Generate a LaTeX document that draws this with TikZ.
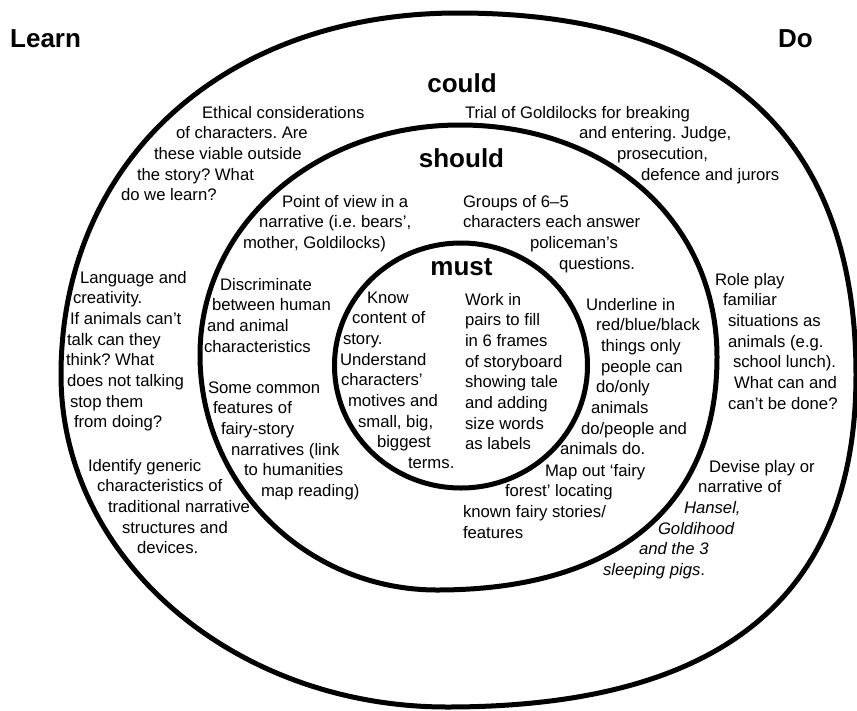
\documentclass[tikz,border=0pt]{standalone}
\usepackage{fontspec}
\setmainfont{Liberation Sans}
\frenchspacing
\begin{document}
\begin{tikzpicture}[x=1pt,y=-1pt,
  ring/.style={line width=5pt,line join=round},
  body/.style={anchor=north west,inner sep=0pt,outer sep=0pt,align=left,
    yshift=14.49pt,font=\fontsize{16.7}{20.7}\selectfont},
  head/.style={anchor=base,inner sep=0pt,font=\fontsize{26}{30}\selectfont\bfseries},
  side/.style={anchor=base west,inner sep=0pt,font=\fontsize{26}{30}\selectfont\bfseries},
]
\useasboundingbox (0,0) rectangle (857,710);

% outer ring: four quarter curves, fuller on the right
\draw[ring] (458,13)
  .. controls (720.7,13) and (856,136.1) .. (856,375)
  .. controls (856,597.4) and (721,707) .. (447,707)
  .. controls (233.8,707) and (61,558.4) .. (61,375)
  .. controls (61,161.4) and (223.8,13) .. (458,13) -- cycle;

% middle ring
\draw[ring] (460,125)
  .. controls (609.1,125) and (717,222.4) .. (717,357)
  .. controls (717,506.1) and (616.2,590) .. (437,590)
  .. controls (306.1,590) and (200,484.8) .. (200,355)
  .. controls (200,226.2) and (314.4,125) .. (460,125) -- cycle;

% inner ring
\draw[ring] (461,365.5) ellipse [x radius=126.5pt, y radius=122.5pt];

% corner labels
\node[side] (learn) at (10,47) {Learn};
\node[side] (do) at (778,47) {Do};

% ring headings
\node[head] (could) at (462,92) {could};
\node[head] (should) at (461.5,167) {should};
\node[head] (must) at (461.5,275) {must};

% outer ring, learning side
\node[body] (ethical) at (121,118) {\strut\hspace*{81pt}Ethical considerations\\
\hspace*{55pt}of characters. Are\\
\hspace*{33pt}these viable outside\\
\hspace*{16pt}the story? What\\
do we learn?};

\node[body] (language) at (66,283) {\strut\hspace*{14pt}Language and\\
\hspace*{7pt}creativity.\\
\hspace*{4pt}If animals can’t\\
\hspace*{1pt}talk can they\\
think? What\\
\hspace*{1pt}does not talking\\
\hspace*{4pt}stop them\\
\hspace*{8pt}from doing?};

\node[body] (identify) at (88,471) {\strut Identify generic\\
\hspace*{9pt}characteristics of\\
\hspace*{20pt}traditional narrative\\
\hspace*{34pt}structures and\\
\hspace*{49pt}devices.};

% outer ring, doing side
\node[body] (trial) at (465,118) {\strut Trial of Goldilocks for breaking\\
\hspace*{114pt}and entering. Judge,\\
\hspace*{152pt}prosecution,\\
\hspace*{176pt}defence and jurors};

\node[body] (roleplay) at (715,285) {\strut Role play\\
\hspace*{8pt}familiar\\
\hspace*{13pt}situations as\\
\hspace*{13pt}animals (e.g.\\
\hspace*{18pt}school lunch).\\
\hspace*{19pt}What can and\\
\hspace*{13pt}can’t be done?};

\node[body] (devise) at (603,472) {\strut\hspace*{106pt}Devise play or\\
\hspace*{95pt}narrative of\\
\hspace*{81pt}\textit{Hansel,}\\
\hspace*{55pt}\textit{Goldihood}\\
\hspace*{36pt}\textit{and the 3}\\
\textit{sleeping pigs}.};

% middle ring, learning side
\node[body] (pointofview) at (243,207) {\strut\hspace*{39pt}Point of view in a\\
\hspace*{16pt}narrative (i.e. bears’,\\
mother, Goldilocks)};

\node[body] (discriminate) at (204,290) {\strut\hspace*{16pt}Discriminate\\
\hspace*{8pt}between human\\
\hspace*{3pt}and animal\\
characteristics};

\node[body] (common) at (208,393) {\strut Some common\\
\hspace*{5pt}features of\\
\hspace*{13pt}fairy-story\\
\hspace*{23pt}narratives (link\\
\hspace*{36pt}to humanities\\
\hspace*{53pt}map reading)};

% middle ring, doing side
\node[body] (groups) at (463,207) {\strut Groups of 6–5\\
characters each answer\\
\hspace*{67pt}policeman’s\\
\hspace*{96pt}questions.};

\node[body] (underline) at (560,310) {\strut\hspace*{26pt}Underline in\\
\hspace*{36pt}red/blue/black\\
\hspace*{41pt}things only\\
\hspace*{41pt}people can\\
\hspace*{36pt}do/only\\
\hspace*{31pt}animals\\
\hspace*{21pt}do/people and\\
animals do.};

\node[body] (mapout) at (463,476) {\strut\hspace*{82pt}Map out ‘fairy\\
\hspace*{42pt}forest’ locating\\
known fairy stories/\\
features};

% inner ring
\node[body] (know) at (340,303) {\strut\hspace*{27pt}Know\\
\hspace*{12pt}content of\\
\hspace*{3pt}story.\\
Understand\\
\hspace*{1pt}characters’\\
\hspace*{8pt}motives and\\
\hspace*{18pt}small, big,\\
\hspace*{37pt}biggest\\
\hspace*{68pt}terms.};

\node[body] (work) at (465,305) {\strut Work in\\
pairs to fill\\
in 6 frames\\
of storyboard\\
showing tale\\
and adding\\
size words\\
as labels};
\end{tikzpicture}
\end{document}
